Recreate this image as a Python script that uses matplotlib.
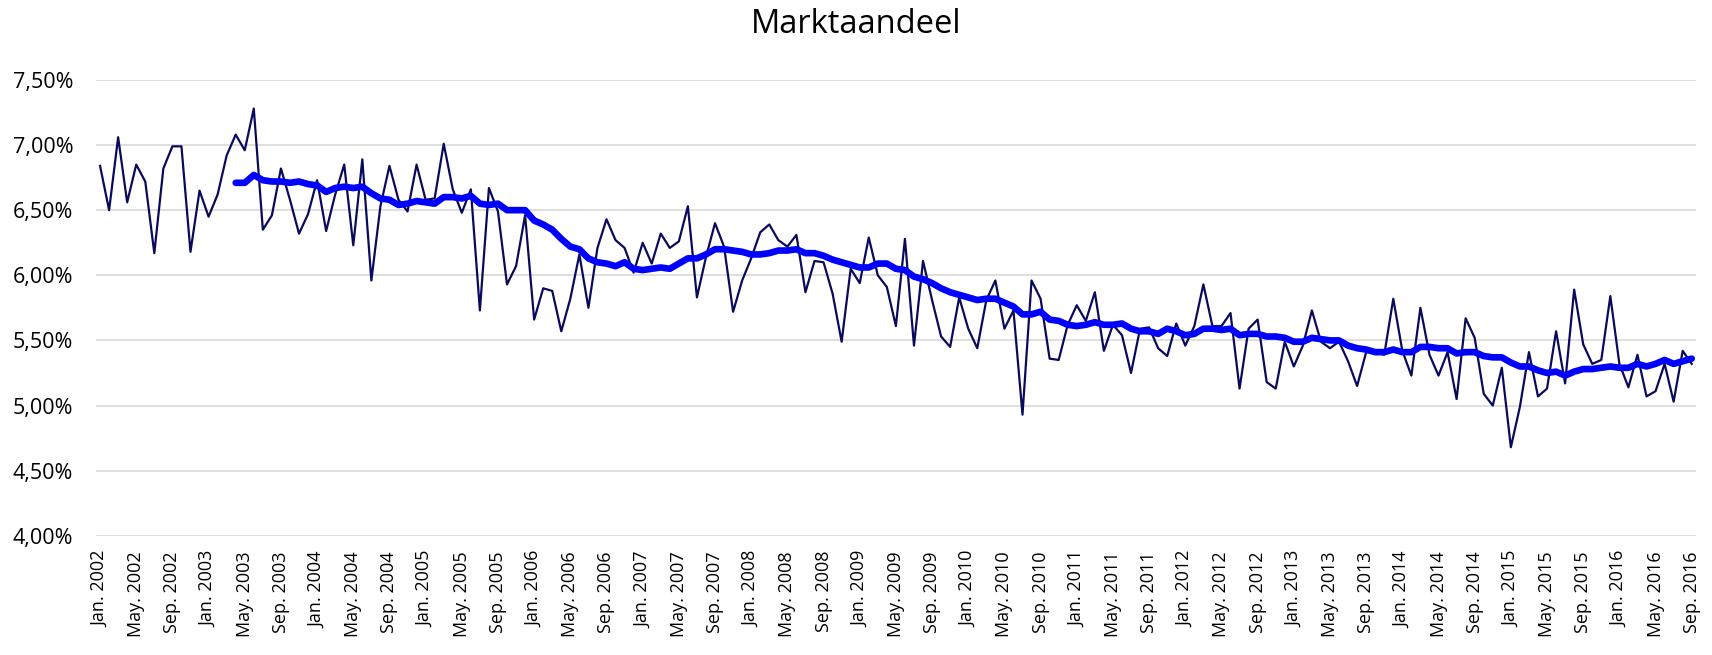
import numpy as np
import matplotlib.pyplot as plt
from matplotlib.ticker import FixedLocator

plt.rcParams['font.family'] = ['Open Sans', 'DejaVu Sans']

# Maandlabels (Jan. 2002 t/m Sep. 2016)
month_abbr = ['Jan.', 'Feb.', 'Mrt.', 'Apr.', 'May.', 'Jun.',
              'Jul.', 'Aug.', 'Sep.', 'Okt.', 'Nov.', 'Dec.']
years = list(range(2002, 2017))
n_months = 14 * 12 + 9
month_labels = [f"{month_abbr[i % 12]} {years[i // 12]}" for i in range(n_months)]

# Marktaandeel per maand (%)
share = [
    6.84, 6.50, 7.06, 6.56, 6.85, 6.72, 6.17, 6.82, 6.99, 6.99, 6.18, 6.65,
    6.45, 6.62, 6.92, 7.08, 6.96, 7.28, 6.35, 6.46, 6.82, 6.58, 6.32, 6.47,
    6.73, 6.34, 6.62, 6.85, 6.23, 6.89, 5.96, 6.53, 6.84, 6.58, 6.49, 6.85,
    6.58, 6.59, 7.01, 6.66, 6.48, 6.66, 5.73, 6.67, 6.49, 5.93, 6.07, 6.46,
    5.66, 5.90, 5.88, 5.57, 5.82, 6.16, 5.75, 6.21, 6.43, 6.27, 6.21, 6.02,
    6.25, 6.09, 6.32, 6.21, 6.26, 6.53, 5.83, 6.14, 6.40, 6.22, 5.72, 5.96,
    6.13, 6.33, 6.39, 6.27, 6.22, 6.31, 5.87, 6.11, 6.10, 5.86, 5.49, 6.05,
    5.94, 6.29, 6.00, 5.91, 5.61, 6.28, 5.46, 6.11, 5.81, 5.53, 5.45, 5.83,
    5.59, 5.44, 5.81, 5.96, 5.59, 5.73, 4.93, 5.96, 5.82, 5.36, 5.35, 5.62,
    5.77, 5.65, 5.87, 5.42, 5.62, 5.54, 5.25, 5.59, 5.60, 5.44, 5.38, 5.63,
    5.46, 5.61, 5.93, 5.61, 5.61, 5.71, 5.13, 5.59, 5.66, 5.18, 5.13, 5.49,
    5.30, 5.46, 5.73, 5.49, 5.44, 5.49, 5.34, 5.15, 5.41, 5.41, 5.39, 5.82,
    5.42, 5.23, 5.75, 5.39, 5.23, 5.41, 5.05, 5.67, 5.52, 5.09, 5.00, 5.29,
    4.68, 4.99, 5.41, 5.07, 5.13, 5.57, 5.17, 5.89, 5.47, 5.32, 5.35, 5.84,
    5.32, 5.14, 5.39, 5.07, 5.11, 5.32, 5.03, 5.42, 5.32,
]

# Trendlijn (begint in april 2003)
trend_start = 15
trend = [
    6.71, 6.71, 6.77, 6.73, 6.72, 6.72, 6.71, 6.72, 6.70,
    6.69, 6.64, 6.67, 6.68, 6.67, 6.68, 6.63, 6.59, 6.58, 6.54, 6.55, 6.57,
    6.56, 6.55, 6.60, 6.60, 6.59, 6.61, 6.55, 6.54, 6.55, 6.50, 6.50, 6.50,
    6.42, 6.39, 6.35, 6.28, 6.22, 6.20, 6.13, 6.10, 6.09, 6.07, 6.10, 6.05,
    6.04, 6.05, 6.06, 6.05, 6.09, 6.13, 6.13, 6.16, 6.20, 6.20, 6.19, 6.18,
    6.16, 6.16, 6.17, 6.19, 6.19, 6.20, 6.17, 6.17, 6.15, 6.12, 6.10, 6.08,
    6.06, 6.06, 6.09, 6.09, 6.05, 6.04, 5.99, 5.97, 5.94, 5.90, 5.87, 5.85,
    5.83, 5.81, 5.82, 5.82, 5.79, 5.76, 5.70, 5.70, 5.72, 5.66, 5.65, 5.62,
    5.61, 5.62, 5.64, 5.62, 5.62, 5.63, 5.59, 5.57, 5.57, 5.55, 5.59, 5.57,
    5.54, 5.55, 5.59, 5.59, 5.58, 5.59, 5.54, 5.55, 5.55, 5.53, 5.53, 5.52,
    5.49, 5.49, 5.52, 5.51, 5.50, 5.50, 5.46, 5.44, 5.43, 5.41, 5.41, 5.43,
    5.41, 5.41, 5.45, 5.45, 5.44, 5.44, 5.40, 5.41, 5.41, 5.38, 5.37, 5.37,
    5.33, 5.30, 5.30, 5.27, 5.25, 5.26, 5.23, 5.26, 5.28, 5.28, 5.29, 5.30,
    5.29, 5.29, 5.32, 5.30, 5.32, 5.35, 5.32, 5.34, 5.36,
]

y_ticks = [4.00, 4.50, 5.00, 5.50, 6.00, 6.50, 7.00, 7.50]
y_tick_labels = ['4,00%', '4,50%', '5,00%', '5,50%', '6,00%', '6,50%', '7,00%', '7,50%']

x = np.arange(len(share))
x_trend = np.arange(trend_start, trend_start + len(trend))

fig = plt.figure(figsize=(17.12, 6.55), dpi=100)
ax = fig.add_axes([0.0558, 0.182, 0.935, 0.696])

ax.plot(x, share, color='#0a0a5c', lw=1.6, zorder=3)
ax.plot(x_trend, trend, color='#0000ff', lw=4.8, solid_capstyle='round',
        solid_joinstyle='round', zorder=4)

ax.set_xlim(-0.5, len(share) - 0.5)
ax.set_ylim(4.0, 7.5)
ax.set_yticks(y_ticks)
ax.set_yticklabels(y_tick_labels)
ax.xaxis.set_major_locator(FixedLocator(x[::4]))
ax.set_xticklabels(month_labels[::4], rotation=90)

ax.grid(axis='y', color='#d9d9d9', lw=1.2, zorder=0)
ax.set_axisbelow(True)
for s in ax.spines.values():
    s.set_visible(False)
ax.tick_params(axis='both', length=0, colors='#000000')
ax.tick_params(axis='y', pad=16, labelsize=15.5)
ax.tick_params(axis='x', pad=11, labelsize=13)

fig.text(0.5, 0.963, 'Marktaandeel', ha='center', va='center', fontsize=23.5)

fig.savefig('out.png', dpi=100)
